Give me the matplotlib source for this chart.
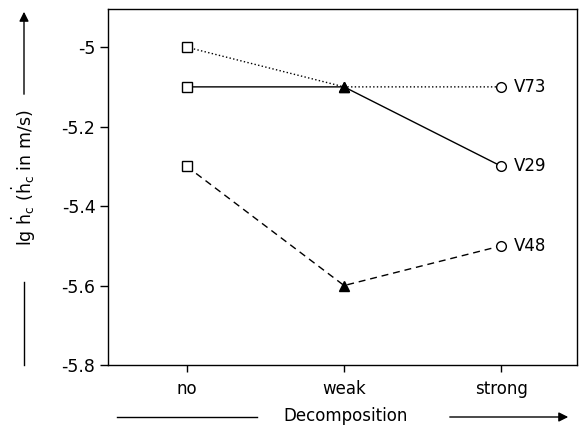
import matplotlib
matplotlib.use("Agg")
import matplotlib.pyplot as plt

plt.rcParams['font.family'] = ['DejaVu Sans']
plt.rcParams['mathtext.fontset'] = 'dejavusans'

categories = ["no", "weak", "strong"]
series_names = ["V73", "V29", "V48"]
v73 = [-5.0, -5.1, -5.1]
v29 = [-5.1, -5.1, -5.3]
v48 = [-5.3, -5.6, -5.5]
y_ticks = [-5.0, -5.2, -5.4, -5.6, -5.8]
y_tick_labels = ["-5", "-5.2", "-5.4", "-5.6", "-5.8"]

fig = plt.figure(figsize=(5.79, 4.28), dpi=100)
ax = fig.add_axes([108 / 579, 1 - 365 / 428, 469 / 579, 356 / 428])

x = list(range(len(categories)))
styles = [(v73, ':'), (v29, '-'), (v48, (0, (5, 3.5)))]
for vals, ls in styles:
    ax.plot(x, vals, color='black', lw=1.0, ls=ls, zorder=1)
    ax.plot(x[0], vals[0], marker='s', ms=7, mfc='white', mec='black', mew=1.0, ls='none', zorder=3)
    ax.plot(x[1], vals[1], marker='^', ms=7.5, mfc='black', mec='black', ls='none', zorder=3)
    ax.plot(x[2], vals[2], marker='o', ms=7, mfc='white', mec='black', mew=1.0, ls='none', zorder=3)

for name, vals in zip(series_names, [v73, v29, v48]):
    ax.annotate(name, (x[2], vals[2]), xytext=(9, 0), textcoords='offset points',
                va='center', ha='left', fontsize=12)

ax.set_xlim(-0.5, 2.48)
ax.set_ylim(-5.8, -4.904)
ax.set_xticks(x)
ax.set_xticklabels(categories, fontsize=12)
ax.set_yticks(y_ticks)
ax.set_yticklabels(y_tick_labels, fontsize=12.5)
ax.tick_params(axis='y', direction='out', length=6, width=1.0, pad=3)
ax.tick_params(axis='x', direction='out', length=5, width=1.0, pad=6)
for sp in ax.spines.values():
    sp.set_linewidth(1.0)

# x-axis title with leading line and trailing arrow
fig.text(346 / 579, 1 - 416 / 428, "Decomposition", ha='center', va='center', fontsize=12)
fig.add_artist(plt.Line2D([117 / 579, 257 / 579], [1 - 417 / 428, 1 - 417 / 428], color='black', lw=1.0))
fig.add_artist(matplotlib.patches.FancyArrowPatch((447 / 579, 1 - 417 / 428), (571 / 579, 1 - 417 / 428),
                                                  transform=fig.transFigure, arrowstyle='-|>',
                                                  mutation_scale=14, color='black', lw=1.0))

# y-axis title with leading line and trailing arrow
fig.text(24 / 579, 1 - 178 / 428, r"lg $\mathregular{\dot{h}_c}$ ($\mathregular{\dot{h}_c}$ in m/s)",
         rotation=90, ha='center', va='center', fontsize=12.5)
fig.add_artist(plt.Line2D([24 / 579, 24 / 579], [1 - 365 / 428, 1 - 282 / 428], color='black', lw=1.0))
fig.add_artist(matplotlib.patches.FancyArrowPatch((24 / 579, 1 - 97 / 428), (24 / 579, 1 - 9 / 428),
                                                  transform=fig.transFigure, arrowstyle='-|>',
                                                  mutation_scale=14, color='black', lw=1.0))

fig.savefig("out.png", dpi=100)
